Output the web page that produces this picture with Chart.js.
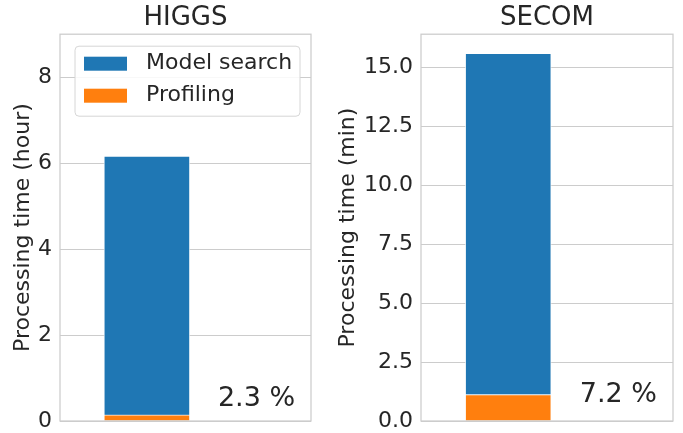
<!DOCTYPE html>
<html><head><meta charset="utf-8">
<script src="https://cdn.jsdelivr.net/npm/chart.js@4"></script>
<style>
html,body{margin:0;padding:0;background:#fff;}
#wrap{position:relative;width:683px;height:433px;overflow:hidden;}
.box{position:absolute;top:0;height:433px;}
</style></head><body>
<div id="wrap">
<div class="box" style="left:0;width:333px"><canvas id="c0"></canvas></div>
<div class="box" style="left:333px;width:350px"><canvas id="c1"></canvas></div>
</div>
<script>
const panels = ['HIGGS', 'SECOM'];
const seriesNames = ['Profiling', 'Model search'];
const profiling = [0.142, 1.12];
const modelSearch = [6.02, 14.47];
const yTitles = ['Processing time (hour)', 'Processing time (min)'];
const yTicks = [[0, 2, 4, 6, 8], [0, 2.5, 5, 7.5, 10, 12.5, 15]];
const yMax = [9, 16.4];
const tickDecimals = [0, 1];
const shareLabels = ['2.3 %', '7.2 %'];

const colors = ['#ff7f0e', '#1f77b4'];
const FONT = 'DejaVu Sans';
const TXT = '#262626';
const GRID = '#cccccc';

const layoutCfg = [
  {axisW: 60, titlePad: 10, padRight: 22, shareY: 0.058},
  {axisW: 88, titlePad: 2.5, padRight: 10, shareY: 0.066}
];

const framePlugin = {
  id: 'frame',
  afterDatasetsDraw(chart) {
    const a = chart.chartArea, ctx = chart.ctx;
    ctx.save();
    ctx.strokeStyle = GRID;
    ctx.lineWidth = 1.25;
    ctx.strokeRect(a.left, a.top, a.right - a.left, a.bottom - a.top);
    ctx.restore();
  }
};

const sharePlugin = {
  id: 'share',
  afterDatasetsDraw(chart, args, opts) {
    const a = chart.chartArea, ctx = chart.ctx;
    ctx.save();
    ctx.fillStyle = TXT;
    ctx.font = '27px "' + FONT + '"';
    ctx.textAlign = 'center';
    ctx.textBaseline = 'middle';
    ctx.fillText(opts.text, a.left + 0.783 * (a.right - a.left), a.bottom - opts.fy * (a.bottom - a.top));
    ctx.restore();
  }
};

const legendPlugin = {
  id: 'innerLegend',
  afterDraw(chart, args, opts) {
    if (!opts.show) return;
    const a = chart.chartArea, ctx = chart.ctx;
    const x = a.left + 15, y = a.top + 12, w = 225, h = 70, r = 4;
    ctx.save();
    ctx.beginPath();
    ctx.moveTo(x + r, y);
    ctx.arcTo(x + w, y, x + w, y + h, r);
    ctx.arcTo(x + w, y + h, x, y + h, r);
    ctx.arcTo(x, y + h, x, y, r);
    ctx.arcTo(x, y, x + w, y, r);
    ctx.closePath();
    ctx.fillStyle = 'rgba(255,255,255,0.85)';
    ctx.fill();
    ctx.strokeStyle = '#d6d6d6';
    ctx.lineWidth = 1;
    ctx.stroke();
    const ds = chart.data.datasets.slice().reverse();
    ds.forEach((d, i) => {
      const cy = y + 17.5 + i * 32;
      ctx.fillStyle = d.backgroundColor;
      ctx.fillRect(x + 9, cy - 7, 43, 14);
      ctx.fillStyle = TXT;
      ctx.font = '22px "' + FONT + '"';
      ctx.textAlign = 'left';
      ctx.textBaseline = 'middle';
      ctx.fillText(d.label, x + 71, cy);
    });
    ctx.restore();
  }
};

function makeChart(i) {
  const L = layoutCfg[i];
  const series = [profiling, modelSearch];
  return new Chart(document.getElementById('c' + i), {
    type: 'bar',
    data: {
      datasets: seriesNames.map((name, k) => ({
        label: name,
        data: [{x: 0, y: series[k][i]}],
        backgroundColor: colors[k],
        borderColor: 'rgba(255,255,255,0.75)',
        borderWidth: 1,
        barThickness: 86
      }))
    },
    options: {
      responsive: true,
      maintainAspectRatio: false,
      animation: false,
      layout: {padding: {left: 0, right: L.padRight, top: 0, bottom: 12}},
      scales: {
        x: {
          type: 'linear', min: -0.81, max: 1.53, stacked: true, display: false, offset: false
        },
        y: {
          stacked: true, min: 0, max: yMax[i],
          afterBuildTicks: (s) => { s.ticks = yTicks[i].map(v => ({value: v})); },
          afterFit: (s) => { s.width = L.axisW; s.paddingTop = 0; s.paddingBottom = 0; },
          border: {display: false},
          grid: {color: GRID, lineWidth: 1, drawTicks: false},
          ticks: {
            padding: 8, color: TXT,
            font: {family: FONT, size: 22},
            callback: (v) => Number(v).toFixed(tickDecimals[i])
          },
          title: {
            display: true, text: yTitles[i], color: TXT,
            font: {family: FONT, size: 22},
            padding: {top: L.titlePad, bottom: 0}
          }
        }
      },
      plugins: {
        legend: {display: false},
        tooltip: {enabled: false},
        title: {
          display: true, text: panels[i], color: TXT, fullSize: false,
          font: {family: FONT, size: 26, weight: 'normal'},
          padding: {top: 3, bottom: 0}
        },
        share: {text: shareLabels[i], fy: L.shareY},
        innerLegend: {show: i === 0}
      }
    },
    plugins: [framePlugin, sharePlugin, legendPlugin]
  });
}
makeChart(0);
makeChart(1);
</script>
</body></html>
